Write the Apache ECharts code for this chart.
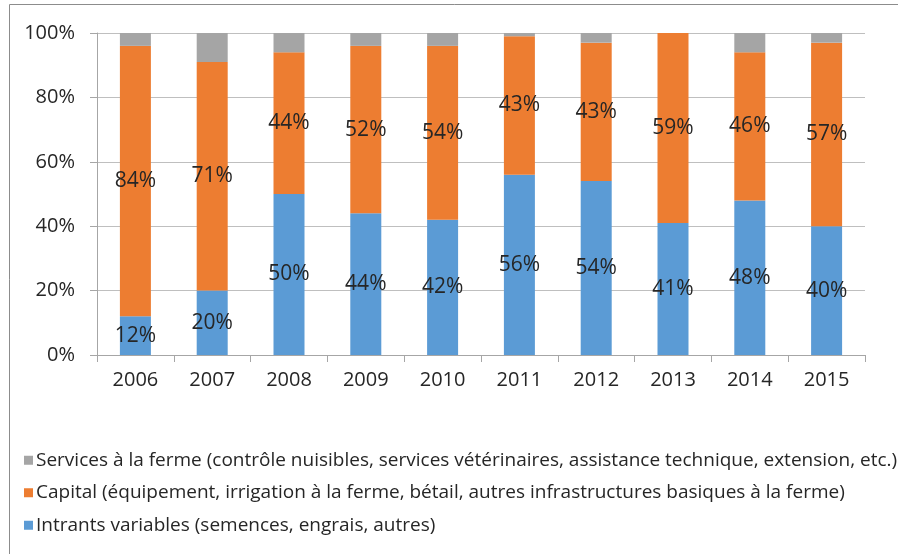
<!DOCTYPE html>
<html>
<head>
<meta charset="utf-8">
<script src="https://cdn.jsdelivr.net/npm/echarts@6/dist/echarts.min.js"></script>
<style>
  html, body { margin: 0; padding: 0; background: #fff; }
  #chart { width: 898px; height: 554px; }
</style>
</head>
<body>
<div id="chart"></div>
<script>
const years = ['2006', '2007', '2008', '2009', '2010', '2011', '2012', '2013', '2014', '2015']
const intrants = [12, 20, 50, 44, 42, 56, 54, 41, 48, 40]
const capital = [84, 71, 44, 52, 54, 43, 43, 59, 46, 57]
const services = [4, 9, 6, 4, 4, 1, 3, 0, 6, 3]

const names = [
  'Intrants variables (semences, engrais, autres)',
  'Capital (équipement, irrigation à la ferme, bétail, autres infrastructures basiques à la ferme)',
  'Services à la ferme (contrôle nuisibles, services vétérinaires, assistance technique, extension, etc.)'
]

const font = 'Open Sans'
const chart = echarts.init(document.getElementById('chart'))

const label = {
  show: true,
  position: 'inside',
  formatter: '{c}%',
  color: '#262626',
  fontFamily: font,
  fontSize: 21
}

chart.setOption({
  animation: false,
  graphic: [
    {
      type: 'rect',
      shape: { x: 9.5, y: 4.5, width: 900, height: 560 },
      style: { fill: 'none', stroke: '#8c8c8c', lineWidth: 1 }
    }
  ],
  legend: {
    orient: 'vertical',
    left: 19,
    top: 445,
    itemWidth: 9,
    itemHeight: 9,
    itemGap: 12,
    icon: 'rect',
    textStyle: { fontFamily: font, fontSize: 19, lineHeight: 20.5, color: '#262626', padding: [0, 0, 0, -2] },
    data: [names[2], names[1], names[0]]
  },
  grid: { left: 97, right: 33, top: 33, bottom: 199 },
  xAxis: {
    type: 'category',
    data: years,
    axisLine: { lineStyle: { color: '#a6a6a6' } },
    axisTick: { show: true, length: 7, lineStyle: { color: '#a6a6a6' } },
    axisLabel: { color: '#262626', fontFamily: font, fontSize: 20, margin: 15 }
  },
  yAxis: {
    type: 'value',
    min: 0,
    max: 100,
    interval: 20,
    axisLine: { show: true, lineStyle: { color: '#a6a6a6' } },
    axisTick: { show: true, length: 7, lineStyle: { color: '#a6a6a6' } },
    splitLine: { lineStyle: { color: '#bfbfbf' } },
    axisLabel: { formatter: '{value}%', color: '#262626', fontFamily: font, fontSize: 20, margin: 22 }
  },
  series: [
    { name: names[0], type: 'bar', stack: 's', barWidth: 31, data: intrants, itemStyle: { color: '#5b9bd5' }, label: label },
    { name: names[1], type: 'bar', stack: 's', barWidth: 31, data: capital, itemStyle: { color: '#ed7d31' }, label: label },
    { name: names[2], type: 'bar', stack: 's', barWidth: 31, data: services, itemStyle: { color: '#a5a5a5' } }
  ]
})
</script>
</body>
</html>
